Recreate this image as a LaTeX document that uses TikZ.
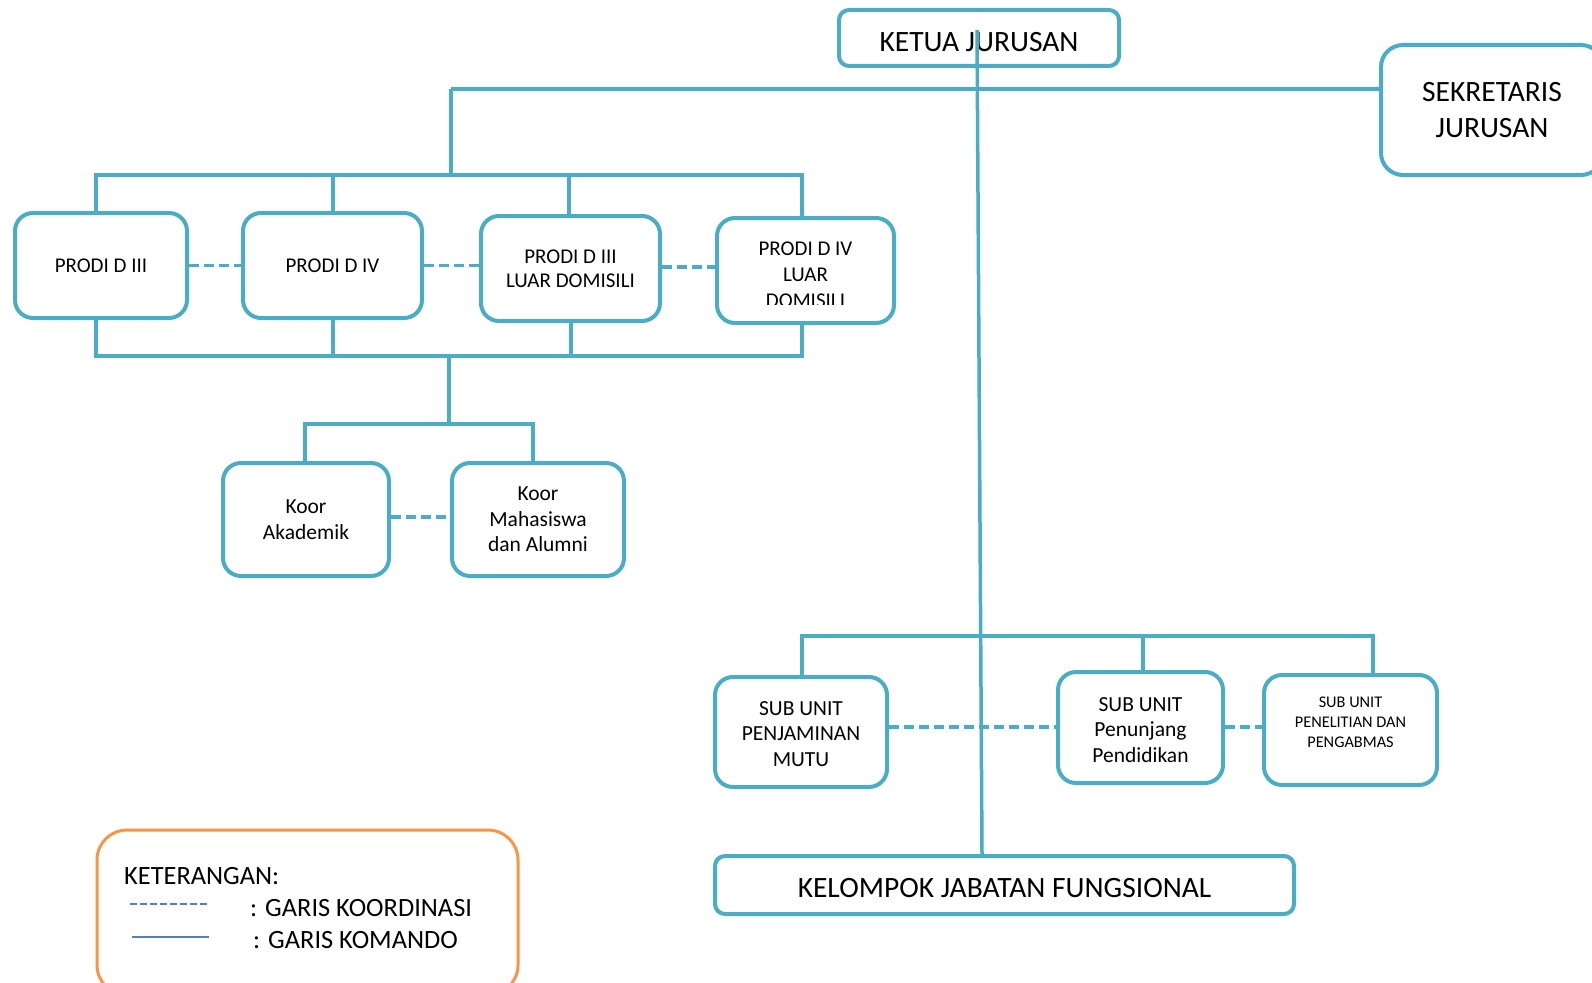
\documentclass[tikz,border=0pt]{standalone}
\usepackage{fontspec}
\setmainfont{Carlito}
\definecolor{aqua}{HTML}{4BACC6}
\definecolor{lgblue}{HTML}{4F81BD}
\definecolor{lgorange}{HTML}{F79646}
\begin{document}
\begin{tikzpicture}[x=1pt,y=-1pt,
  box/.style={draw=aqua,line width=4pt,rounded corners=18pt,align=center,inner sep=0pt,text=black},
  lbl/.style={align=center,inner sep=0pt,text=black},
  cmd/.style={draw=aqua,line width=3.5pt},
  crd/.style={draw=aqua,line width=3.5pt,dash pattern=on 10pt off 5pt},
  fA/.style={font=\fontsize{21}{25}\selectfont},
  fB/.style={font=\fontsize{21.5}{25.5}\selectfont},
  fC/.style={font=\fontsize{29.5}{36}\selectfont},
]
\clip (0,0) rectangle (1592,982);
\fill[white] (0,0) rectangle (1592,982);

% boxes
\node[box,rounded corners=10pt,minimum width=280pt,minimum height=56pt,
  label={[lbl,fC,yshift=-4pt]center:KETUA JURUSAN}] (ketua) at (979,38) {};
\node[box,fC,rounded corners=22pt,minimum width=222pt,minimum height=130pt] (sek) at (1492,110) {SEKRETARIS\\JURUSAN};
\node[box,fA,minimum width=172pt,minimum height=105pt] (d3) at (101,265.5) {PRODI D III};
\node[box,fA,minimum width=179pt,minimum height=105pt] (d4) at (332.5,265.5) {PRODI D IV};
\node[box,font=\fontsize{21}{24.4}\selectfont,minimum width=179pt,minimum height=105pt] (d3l) at (570.5,268.5) {PRODI D III\\LUAR DOMISILI};
\node[box,minimum width=177pt,minimum height=105pt] (d4l) at (805.5,270.5) {};
\begin{scope}
  \clip (717,215) rectangle (894,304);
  \node[lbl,font=\fontsize{21}{26}\selectfont] (d4lt) at (805.5,275) {PRODI D IV\\LUAR\\DOMISILI};
\end{scope}
\node[box,fB,minimum width=166pt,minimum height=113pt] (ka) at (306,519.5) {Koor\\Akademik};
\node[box,fB,minimum width=172pt,minimum height=113pt] (km) at (538,519.5) {Koor\\Mahasiswa\\dan Alumni};
\node[box,minimum width=172pt,minimum height=110pt,
  label={[lbl,fB,yshift=-2pt]center:SUB UNIT\\PENJAMINAN\\MUTU}] (spm) at (801,732) {};
\node[box,minimum width=165pt,minimum height=111pt,
  label={[lbl,fB,yshift=-2.5pt]center:SUB UNIT\\Penunjang\\Pendidikan}] (spp) at (1140.5,727.5) {};
\node[box,minimum width=173pt,minimum height=110pt,
  label={[lbl,yshift=8pt,font=\fontsize{16.3}{19.8}\selectfont]center:SUB UNIT\\PENELITIAN DAN\\PENGABMAS}] (spl) at (1350.5,730) {};
\node[box,rounded corners=10pt,minimum width=579pt,minimum height=58pt,
  label={[lbl,fC,yshift=-3pt]center:KELOMPOK JABATAN FUNGSIONAL}] (kjf) at (1004.5,885) {};

% legend
\node[draw=lgorange,line width=3pt,rounded corners=30pt,minimum width=421pt,minimum height=165pt] (leg) at (307.5,912.5) {};
\node[anchor=west,inner sep=0pt,font=\fontsize{26.4}{30}\selectfont] (legt) at (124,876) {KETERANGAN:};
\node[anchor=west,inner sep=0pt,font=\fontsize{26.4}{30}\selectfont] (legk) at (250,908) {: GARIS KOORDINASI};
\node[anchor=west,inner sep=0pt,font=\fontsize{26.4}{30}\selectfont] (legm) at (253,940) {: GARIS KOMANDO};
\coordinate (ld1) at (130,904);
\coordinate (ld2) at (208,904);
\coordinate (ls1) at (132,937);
\coordinate (ls2) at (209,937);
\draw[lgblue,line width=2.2pt,dash pattern=on 7pt off 3pt] (ld1) -- (ld2);
\draw[lgblue,line width=2.8pt] (ls1) -- (ls2);

% command lines
\coordinate (h1) at (451,89);
\coordinate (tbm) at (451,175);
\coordinate (c1) at (96,175);
\coordinate (c2) at (333,175);
\coordinate (c3) at (569,175);
\coordinate (c4) at (802,175);
\draw[cmd] (h1) -- (h1 -| sek.west);
\draw[cmd] (h1) -- (tbm);
\draw[cmd] (d3.north -| c1) -- (c1) -- (c4) -- (c4 |- d4l.north);
\draw[cmd] (c2) -- (c2 |- d4.north);
\draw[cmd] (c3) -- (c3 |- d3l.north);

\coordinate (b1) at (96,356);
\coordinate (b2) at (333,356);
\coordinate (b3) at (571,356);
\coordinate (b4) at (802,356);
\coordinate (bm) at (449,356);
\draw[cmd] (d3.south -| b1) -- (b1) -- (b4) -- (b4 |- d4l.south);
\draw[cmd] (b2) -- (b2 |- d4.south);
\draw[cmd] (b3) -- (b3 |- d3l.south);

\coordinate (kb) at (449,424);
\coordinate (k1) at (305,424);
\coordinate (k2) at (533,424);
\draw[cmd] (bm) -- (kb);
\draw[cmd] (ka.north -| k1) -- (k1) -- (k2) -- (k2 |- km.north);

\coordinate (s1) at (802,636);
\coordinate (s2) at (1143,636);
\coordinate (s3) at (1373,636);
\draw[cmd] (spm.north -| s1) -- (s1) -- (s3) -- (s3 |- spl.north);
\draw[cmd] (s2) -- (s2 |- spp.north);

% coordination lines
\draw[crd] (d3.east) -- (d4.west);
\draw[crd] (d4.east) -- (d4.east -| d3l.west);
\draw[crd] (d3l.east |- 0,267) -- (d4l.west |- 0,267);
\draw[crd] (ka.east |- 0,517) -- (km.west |- 0,517);
\draw[crd] (spm.east |- 0,727) -- (spp.west |- 0,727);
\draw[crd] (spp.east |- 0,727) -- (spl.west |- 0,727);

% main vertical
\coordinate (ktop) at (977,30);
\coordinate (kbot) at (982,0);
\draw[cmd] (ktop) -- (kbot |- kjf.north);
\end{tikzpicture}
\end{document}
